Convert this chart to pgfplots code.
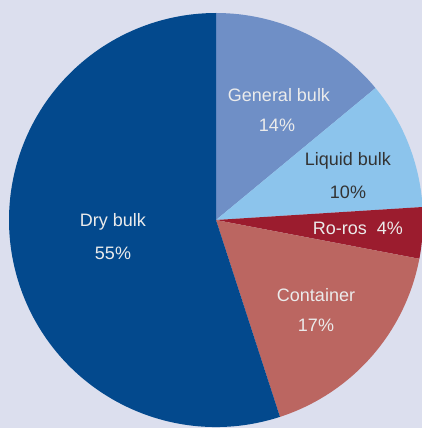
\documentclass[border=0pt]{standalone}
\usepackage{pgfplots}
\pgfplotsset{compat=1.18}
\usepackage{fontspec}
\setmainfont{Liberation Sans}
\definecolor{bgc}{HTML}{DCDFEE}
\definecolor{genb}{HTML}{6F8FC6}
\definecolor{liqb}{HTML}{8CC4EC}
\definecolor{roro}{HTML}{9B1C2E}
\definecolor{cont}{HTML}{BB6661}
\definecolor{dryb}{HTML}{03498D}
\begin{document}
\begin{tikzpicture}
\begin{axis}[x=1pt,y=1pt,xmin=0,xmax=422,ymin=0,ymax=428,hide axis,scale only axis,
  width=422pt,height=428pt,clip=true]
\fill[bgc] (axis cs:0,0) rectangle (axis cs:422,428);
\foreach \v/\c [remember=\e as \s (initially 90)] in {14/genb,10/liqb,4/roro,17/cont,55/dryb} {
  \pgfmathsetmacro\e{\s-3.6*\v}
  \edef\temp{\noexpand\fill[\c] (axis cs:216,208) -- ++(\s:207pt) arc[start angle=\s, end angle=\e, radius=207pt] -- cycle;}
  \temp
}
\tikzset{lbl/.style={font=\fontsize{18}{21}\selectfont, text=white!92!black, align=center}}
\node[lbl] at (axis cs:279,333) {General bulk};
\node[lbl] at (axis cs:277,303) {14\%};
\node[lbl,text=black!80] at (axis cs:348,267) {Liquid bulk};
\node[lbl,text=black!80] at (axis cs:348,236) {10\%};
\node[lbl] at (axis cs:358,200) {Ro-ros\ \ 4\%};
\node[lbl] at (axis cs:316,133) {Container};
\node[lbl] at (axis cs:316,103) {17\%};
\node[lbl] at (axis cs:113,206) {Dry bulk};
\node[lbl] at (axis cs:113,175) {55\%};
\end{axis}
\end{tikzpicture}
\end{document}
